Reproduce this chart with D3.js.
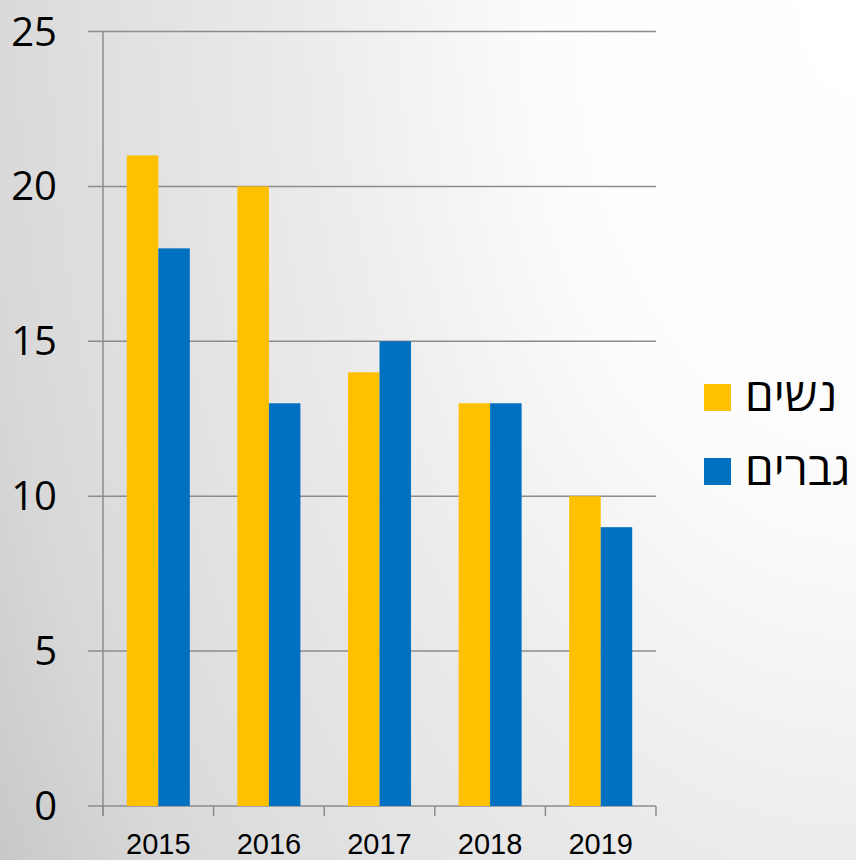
<!DOCTYPE html>
<html>
<head>
<meta charset="utf-8">
<script src="https://cdn.jsdelivr.net/npm/d3@7"></script>
<style>
  body { margin: 0; padding: 0; overflow: hidden; }
</style>
</head>
<body>
<script>
// chart values
var years = ['2015', '2016', '2017', '2018', '2019'];
var women = [21, 20, 14, 13, 10];
var men = [18, 13, 15, 13, 9];
var seriesNames = ['נשים', 'גברים'];
var seriesColors = ['#FFC000', '#0070C0'];
var yTicks = [0, 5, 10, 15, 20, 25];

var svg = d3.select('body').append('svg')
    .attr('width', 856)
    .attr('height', 860);

// background gradient, light in the top right corner
var defs = svg.append('defs');
var grad = defs.append('radialGradient')
    .attr('id', 'bg')
    .attr('gradientUnits', 'userSpaceOnUse')
    .attr('cx', 856).attr('cy', 0).attr('r', 1250)
    .attr('gradientTransform', 'translate(856,0) scale(1,1.6) translate(-856,0)');
[[0, '#ffffff'], [0.25, '#fcfcfc'], [0.43, '#ececec'], [0.6, '#e0e0e0'],
 [0.7, '#d8d8d8'], [0.81, '#c8c8c8'], [1, '#c0c0c0']].forEach(function (s) {
    grad.append('stop').attr('offset', s[0]).attr('stop-color', s[1]);
});

svg.append('rect')
    .attr('width', 856).attr('height', 860)
    .attr('fill', 'url(#bg)');

var plotL = 103, plotR = 656, plotT = 31.5, plotB = 806;

var x = d3.scaleBand().domain(years).range([plotL, plotR]).paddingInner(0.43).paddingOuter(0.215);
var sub = d3.scaleBand().domain([0, 1]).range([0, x.bandwidth()]);
var y = d3.scaleLinear().domain([0, 25]).range([plotB, plotT]);

// gridlines
svg.append('g').selectAll('line')
    .data(yTicks)
    .enter().append('line')
    .attr('x1', 88).attr('x2', plotR)
    .attr('y1', function (d) { return y(d); })
    .attr('y2', function (d) { return y(d); })
    .attr('stroke', '#8c8c8c')
    .attr('stroke-width', 1.5);

// y axis line
svg.append('line')
    .attr('x1', plotL).attr('x2', plotL)
    .attr('y1', plotT).attr('y2', 816)
    .attr('stroke', '#8c8c8c')
    .attr('stroke-width', 1.5);

// x ticks
var xTickPos = years.map(function (d) { return x(d) - x.step() * x.paddingInner() / 2; }).concat([plotR]);
svg.append('g').selectAll('line')
    .data(xTickPos)
    .enter().append('line')
    .attr('x1', function (d) { return d; })
    .attr('x2', function (d) { return d; })
    .attr('y1', plotB).attr('y2', 816)
    .attr('stroke', '#8c8c8c')
    .attr('stroke-width', 1.5);

// bars
var data = [women, men];
data.forEach(function (vals, s) {
    svg.append('g').selectAll('rect')
        .data(vals)
        .enter().append('rect')
        .attr('x', function (d, i) { return x(years[i]) + sub(s); })
        .attr('y', function (d) { return y(d); })
        .attr('width', sub.bandwidth())
        .attr('height', function (d) { return plotB - y(d); })
        .attr('fill', seriesColors[s]);
});

// y labels
svg.append('g').selectAll('text')
    .data(yTicks)
    .enter().append('text')
    .attr('x', 57)
    .attr('y', function (d) { return y(d) + 14; })
    .attr('text-anchor', 'end')
    .attr('font-family', 'Open Sans, DejaVu Sans, sans-serif')
    .attr('font-size', 40)
    .attr('fill', '#000')
    .text(function (d) { return d; });

// x labels
svg.append('g').selectAll('text')
    .data(years)
    .enter().append('text')
    .attr('x', function (d) { return x(d) + x.bandwidth() / 2; })
    .attr('y', 854)
    .attr('text-anchor', 'middle')
    .attr('font-family', 'Liberation Sans, Arial, sans-serif')
    .attr('font-size', 29)
    .attr('fill', '#000')
    .text(function (d) { return d; });

// legend
var legend = svg.append('g').selectAll('g')
    .data(seriesNames)
    .enter().append('g')
    .attr('transform', function (d, i) { return 'translate(704,' + (384 + i * 74) + ')'; });

legend.append('rect')
    .attr('width', 27).attr('height', 27)
    .attr('fill', function (d, i) { return seriesColors[i]; });

legend.append('text')
    .attr('x', 41)
    .attr('y', 27)
    .attr('font-family', 'Open Sans, DejaVu Sans, sans-serif')
    .attr('font-size', 46)
    .attr('fill', '#000')
    .text(function (d) { return d; });
</script>
</body>
</html>
